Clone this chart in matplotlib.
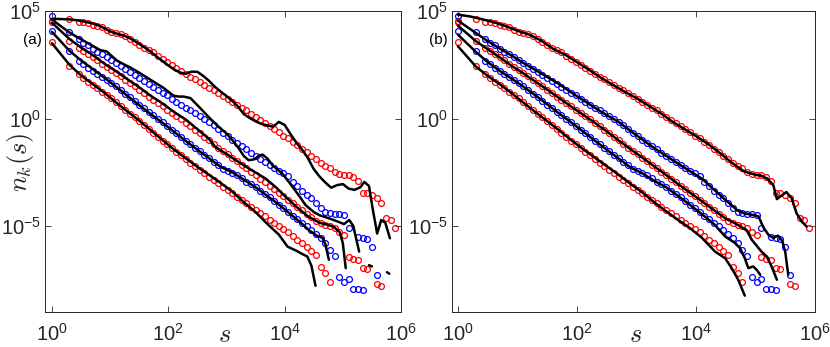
import numpy as np
import matplotlib
matplotlib.use("Agg")
import matplotlib.pyplot as plt
from matplotlib.ticker import NullLocator

plt.rcParams['font.family'] = ['Liberation Sans', 'DejaVu Sans']
plt.rcParams['mathtext.fontset'] = 'cm'

# ---------------- data (log10 values) ----------------
LOG_S = [0.00, 0.30, 0.46, 0.54, 0.62, 0.70, 0.78, 0.86, 0.94, 1.02,
         1.10, 1.18, 1.26, 1.34, 1.42, 1.50, 1.58, 1.66, 1.74, 1.82,
         1.90, 1.98, 2.06, 2.14, 2.22, 2.30, 2.38, 2.46, 2.54, 2.62,
         2.70, 2.78, 2.86, 2.94, 3.02, 3.10, 3.18, 3.26, 3.34, 3.42,
         3.50, 3.58, 3.66, 3.74, 3.82, 3.90, 3.98, 4.06, 4.14, 4.22,
         4.30, 4.38, 4.46, 4.54, 4.62, 4.70, 4.78, 4.86, 4.94, 5.02,
         5.10, 5.18, 5.26, 5.34, 5.42, 5.50, 5.58, 5.66, 5.74, 5.82,
         5.90]

nan = float('nan')

# marker series (same data in both panels), log10 n_k(s)
N1 = [4.52, 4.64, 4.50, 4.47, 4.44, 4.37, 4.31, 4.24, 4.13, 4.03,
      3.98, 3.92, 3.84, 3.72, 3.58, 3.43, 3.30, 3.20, 3.07, 2.92,
      2.79, 2.63, 2.49, 2.34, 2.20, 2.07, 1.95, 1.83, 1.68, 1.54,
      1.42, 1.31, 1.18, 1.04, 0.93, 0.77, 0.63, 0.50, 0.38, 0.21,
      0.06, -0.09, -0.23, -0.37, -0.50, -0.65, -0.80, -0.93, -1.09, -1.25,
      -1.42, -1.58, -1.73, -1.88, -2.08, -2.20, -2.32, -2.49, -2.58, -2.64,
      -2.65, -2.70, -2.90, -3.45, -3.47, -3.55, -3.72, -3.94, -4.65, -4.72,
      -5.08]
N2 = [4.79, 4.04, 3.68, 3.52, 3.40, 3.25, 3.11, 2.99, 2.85, 2.71,
      2.56, 2.45, 2.30, 2.18, 2.02, 1.90, 1.75, 1.62, 1.47, 1.34,
      1.20, 1.07, 0.93, 0.79, 0.65, 0.51, 0.38, 0.24, 0.11, -0.01,
      -0.14, -0.32, -0.48, -0.66, -0.82, -0.99, -1.14, -1.30, -1.44, -1.59,
      -1.73, -1.88, -2.04, -2.16, -2.29, -2.43, -2.55, -2.66, -2.97, -3.13,
      -3.38, -3.56, -3.72, -3.94, -4.15, -4.34, -4.41, -4.42, -4.44, -4.49,
      -5.10, nan, -5.49, -5.56, -5.62, -5.99, -7.28]
N3 = [4.50, 3.62, 3.30, 3.16, 3.02, 2.86, 2.70, 2.55, 2.40, 2.25,
      2.11, 1.97, 1.80, 1.65, 1.50, 1.34, 1.19, 1.02, 0.88, 0.72,
      0.56, 0.40, 0.25, 0.10, -0.04, -0.20, -0.36, -0.52, -0.68, -0.85,
      -1.02, -1.18, -1.35, -1.50, -1.66, -1.82, -1.98, -2.15, -2.31, -2.48,
      -2.64, -2.80, -2.96, -3.13, -3.30, -3.46, -3.62, -3.78, -3.94, -4.10,
      -4.26, -4.42, -4.58, -4.75, -4.86, -4.95, -4.98, -5.08, -5.30, -5.40,
      -6.45, -6.52, -6.58, -6.95, -7.00, nan, -7.68, -7.78]
N4 = [4.06, 3.12, 2.68, 2.52, 2.37, 2.22, 2.08, 1.95, 1.80, 1.65,
      1.49, 1.32, 1.15, 0.99, 0.82, 0.65, 0.48, 0.32, 0.15, -0.01,
      -0.18, -0.35, -0.52, -0.69, -0.86, -1.03, -1.20, -1.37, -1.53, -1.70,
      -1.86, -2.02, -2.18, -2.34, -2.46, -2.55, -2.64, -2.78, -2.94, -3.05,
      -3.18, -3.35, -3.50, -3.66, -3.83, -4.00, -4.15, -4.33, -4.52, -4.68,
      -4.86, -5.02, -5.20, -5.36, -5.55, -5.78, -6.10, -6.40, -7.36, -7.60,
      -7.48, -7.95, -7.93, -7.97]
N5 = [3.54, 2.45, 2.05, 1.87, 1.70, 1.55, 1.40, 1.25, 1.10, 0.95,
      0.77, 0.59, 0.41, 0.23, 0.05, -0.13, -0.31, -0.49, -0.67, -0.85,
      -1.03, -1.20, -1.38, -1.55, -1.72, -1.88, -2.05, -2.21, -2.38, -2.54,
      -2.70, -2.86, -3.02, -3.17, -3.32, -3.48, -3.63, -3.79, -3.95, -4.10,
      -4.25, -4.40, -4.55, -4.70, -4.85, -4.98, -5.13, -5.30, -5.47, -5.63,
      -5.80, -5.98, -6.15, -6.35, -6.92, -7.20, -7.60]
MARK_COLORS = ['#FF0000', '#0000FF', '#FF0000', '#0000FF', '#FF0000']

# model curves, panel (a)
LA1_X = [0, 0.1, 0.2, 0.3, 0.4, 0.5, 0.6, 0.7, 0.8, 0.9, 1.0, 1.1, 1.2, 1.3, 1.4,
         1.5, 1.6, 1.7, 1.8, 1.9, 2.0, 2.1, 2.2, 2.3, 2.4, 2.5, 2.6, 2.7, 2.8, 2.9,
         3.0, 3.1, 3.2, 3.3, 3.4, 3.5, 3.6, 3.7, 3.8, 3.9, 4.0, 4.1, 4.2, 4.3, 4.4,
         4.5, 4.6, 4.7, 4.8, 4.9, 5.0, 5.1, 5.2, 5.3, 5.37, 5.45, 5.51, 5.59, 5.66,
         5.73, 5.81]
LA1_Y = [4.64, 4.63, 4.62, 4.61, 4.58, 4.54, 4.48, 4.42, 4.33, 4.20, 4.05, 3.96,
         3.88, 3.79, 3.64, 3.47, 3.29, 3.10, 2.88, 2.67, 2.47, 2.28, 2.14, 2.08,
         2.18, 2.17, 1.98, 1.75, 1.48, 1.25, 1.04, 0.82, 0.55, 0.20, 0.02, -0.13,
         -0.25, -0.32, -0.38, -0.16, -0.30, -0.72, -1.12, -1.45, -1.85, -2.35,
         -2.70, -2.98, -3.22, -3.10, -3.05, -3.26, -3.32, -3.20, -2.95, -3.14,
         -4.15, -5.35, -4.72, -4.85, -5.57]
LA2_X = [0, 0.15, 0.3, 0.45, 0.6, 0.75, 0.83, 0.94, 1.03, 1.12, 1.25, 1.34, 1.5,
         1.63, 1.8, 1.92, 2.0, 2.09, 2.18, 2.26, 2.38, 2.47, 2.55, 2.7, 2.87, 3.0,
         3.1, 3.2, 3.3, 3.38, 3.48, 3.56, 3.62, 3.7, 3.8, 3.96, 4.1, 4.25, 4.36,
         4.5, 4.6, 4.76, 4.9, 5.02, 5.11, 5.18, 5.28]
LA2_Y = [4.60, 4.30, 4.00, 3.76, 3.53, 3.30, 3.18, 3.12, 2.90, 2.69, 2.50, 2.38,
         2.13, 1.91, 1.62, 1.42, 1.25, 1.06, 1.02, 1.02, 0.95, 0.70, 0.48, 0.05,
         -0.40, -0.70, -1.00, -1.35, -1.75, -1.94, -1.90, -1.72, -1.68, -1.85,
         -2.20, -2.56, -3.05, -3.60, -4.03, -4.35, -4.50, -4.64, -4.78, -4.91,
         -4.72, -5.00, -6.19]
LA3_X = [0, 0.3, 0.5, 0.7, 0.9, 1.1, 1.3, 1.5, 1.7, 1.9, 2.1, 2.3, 2.5, 2.7, 2.81,
         3.0, 3.16, 3.4, 3.67, 3.85, 4.0, 4.2, 4.4, 4.6, 4.75, 4.85, 4.95, 5.0,
         5.05, nan, 5.45, 5.50, nan, 5.76, 5.80]
LA3_Y = [4.45, 3.70, 3.30, 2.95, 2.55, 2.20, 1.82, 1.45, 1.05, 0.70, 0.30, -0.05,
         -0.50, -0.95, -1.33, -1.65, -1.94, -2.35, -2.79, -3.20, -3.60, -4.10,
         -4.55, -4.85, -4.95, -5.05, -5.30, -5.80, -6.96, nan, -6.82, -6.88, nan,
         -7.15, -7.22]
LA4_X = [0, 0.3, 0.5, 0.7, 0.9, 1.1, 1.3, 1.5, 1.7, 1.9, 2.1, 2.3, 2.5, 2.7, 2.9,
         3.1, 3.3, 3.5, 3.7, 3.9, 4.1, 4.3, 4.42, 4.55, 4.65, 4.70, 4.76]
LA4_Y = [4.03, 3.15, 2.70, 2.30, 1.90, 1.48, 1.05, 0.62, 0.20, -0.20, -0.62,
         -1.05, -1.45, -1.85, -2.25, -2.50, -2.85, -3.20, -3.60, -4.00, -4.45,
         -4.90, -5.20, -5.45, -5.55, -5.85, -6.57]
LA5_X = [0, 0.3, 0.5, 0.7, 0.9, 1.1, 1.3, 1.5, 1.7, 1.9, 2.1, 2.3, 2.5, 2.7, 2.9,
         3.1, 3.3, 3.5, 3.7, 3.9, 4.05, 4.2, 4.28, 4.39, 4.46, 4.53]
LA5_Y = [3.50, 2.50, 2.00, 1.60, 1.20, 0.75, 0.32, -0.10, -0.55, -1.00, -1.45,
         -1.85, -2.25, -2.62, -3.00, -3.40, -3.90, -4.35, -4.90, -5.40, -5.96,
         -6.15, -6.27, -6.42, -6.85, -7.78]

# model curves, panel (b)
LB1_X = [0, 0.2, 0.4, 0.6, 0.8, 1.0, 1.2, 1.4, 1.6, 1.8, 2.0, 2.2, 2.4, 2.6, 2.8,
         3.0, 3.2, 3.4, 3.6, 3.8, 4.0, 4.2, 4.4, 4.6, 4.8, 5.0, 5.1, 5.2, 5.3,
         5.36, 5.44, 5.52, 5.61, 5.69, 5.78, 5.86]
LB1_Y = [4.83, 4.75, 4.62, 4.48, 4.30, 4.08, 3.90, 3.62, 3.24, 2.97, 2.62, 2.27,
         1.90, 1.57, 1.25, 0.95, 0.60, 0.26, -0.14, -0.48, -0.82, -1.18, -1.60,
         -2.05, -2.45, -2.62, -2.66, -2.80, -3.10, -3.75, -3.58, -3.42, -3.72,
         -4.41, -4.80, -5.03]
LB2_X = [0, 0.3, 0.5, 0.7, 0.9, 1.1, 1.3, 1.5, 1.7, 1.9, 2.1, 2.3, 2.5, 2.7, 2.9,
         3.1, 3.3, 3.5, 3.7, 3.9, 4.1, 4.3, 4.5, 4.7, 4.82, 4.95, 5.05, 5.13, 5.22,
         5.30, 5.38, 5.45, 5.50, 5.55]
LB2_Y = [4.55, 3.98, 3.60, 3.26, 2.93, 2.58, 2.26, 1.93, 1.60, 1.22, 0.86, 0.50,
         0.16, -0.16, -0.58, -0.98, -1.38, -1.74, -2.10, -2.45, -2.80, -3.30,
         -3.80, -4.28, -4.42, -4.48, -4.55, -5.05, -5.42, -5.55, -5.45, -5.70,
         -6.20, -7.27]
LB3_X = [0, 0.3, 0.5, 0.7, 0.9, 1.1, 1.3, 1.5, 1.7, 1.9, 2.1, 2.3, 2.5, 2.7, 2.9,
         3.1, 3.3, 3.5, 3.7, 3.9, 4.1, 4.3, 4.5, 4.66, 4.85, 4.94, 5.10, 5.19,
         5.27, 5.36]
LB3_Y = [4.32, 3.60, 3.22, 2.85, 2.45, 2.10, 1.72, 1.34, 0.95, 0.56, 0.18, -0.20,
         -0.60, -1.02, -1.43, -1.82, -2.23, -2.63, -3.05, -3.45, -3.85, -4.26,
         -4.66, -4.88, -5.19, -5.65, -6.19, -6.42, -6.88, -7.50]
LB4_X = [0, 0.3, 0.5, 0.7, 0.9, 1.1, 1.3, 1.5, 1.7, 1.9, 2.1, 2.3, 2.5, 2.7, 2.9,
         3.1, 3.3, 3.5, 3.7, 3.9, 4.1, 4.3, 4.49, 4.66, 4.74, 4.82, 4.88, 4.96,
         5.02, 5.08]
LB4_Y = [3.90, 3.10, 2.62, 2.22, 1.86, 1.48, 1.08, 0.66, 0.23, -0.18, -0.60,
         -1.03, -1.45, -1.86, -2.28, -2.55, -2.90, -3.20, -3.60, -4.02, -4.45,
         -4.90, -5.49, -5.80, -6.03, -6.50, -6.96, -6.88, -7.04, -7.27]
LB5_X = [0, 0.3, 0.5, 0.7, 0.9, 1.1, 1.3, 1.5, 1.7, 1.9, 2.1, 2.3, 2.5, 2.7, 2.9,
         3.1, 3.3, 3.5, 3.7, 3.9, 4.1, 4.32, 4.49, 4.60, 4.71, 4.82]
LB5_Y = [3.36, 2.42, 1.98, 1.60, 1.18, 0.74, 0.30, -0.12, -0.55, -1.00, -1.42,
         -1.82, -2.22, -2.62, -3.04, -3.44, -3.90, -4.32, -4.72, -5.10, -5.55,
         -6.19, -6.50, -6.96, -7.50, -8.24]

X_TICKS = [1e0, 1e2, 1e4, 1e6]
Y_TICKS = [1e-5, 1e0, 1e5]
PANEL_LABELS = ['(a)', '(b)']

# ---------------- figure ----------------
W, H = 830, 347
fig = plt.figure(figsize=(W / 100, H / 100), dpi=100)
axA = fig.add_axes([45 / W, 1 - 312 / H, 356 / W, 301 / H])
axB = fig.add_axes([452 / W, 1 - 312 / H, 363 / W, 301 / H])

s_vals = 10 ** np.array(LOG_S)
marker_sets = [N1, N2, N3, N4, N5]
lines_a = [(LA1_X, LA1_Y), (LA2_X, LA2_Y), (LA3_X, LA3_Y), (LA4_X, LA4_Y), (LA5_X, LA5_Y)]
lines_b = [(LB1_X, LB1_Y), (LB2_X, LB2_Y), (LB3_X, LB3_Y), (LB4_X, LB4_Y), (LB5_X, LB5_Y)]

TXT = '#262626'
for ax, lines, xmin in [(axA, lines_a, 10 ** -0.12), (axB, lines_b, 10 ** -0.10)]:
    ax.set_xscale('log')
    ax.set_yscale('log')
    for vals, col in zip(marker_sets, MARK_COLORS):
        y = np.array(vals + [nan] * (len(LOG_S) - len(vals)), dtype=float)
        ax.plot(s_vals, 10 ** y, linestyle='none', marker='o', ms=4.2,
                mfc='none', mec=col, mew=0.9, zorder=2)
    for lx, ly in lines:
        ax.plot(10 ** np.array(lx, dtype=float), 10 ** np.array(ly, dtype=float),
                color='black', lw=1.8, zorder=3, solid_joinstyle='round',
                solid_capstyle='round')
    ax.set_xlim(xmin, 1e6)
    ax.set_ylim(1e-9, 1e5)
    ax.set_xticks(X_TICKS)
    ax.set_yticks(Y_TICKS)
    ax.xaxis.set_minor_locator(NullLocator())
    ax.yaxis.set_minor_locator(NullLocator())
    ax.tick_params(which='both', direction='in', top=True, right=True,
                   length=4, width=0.6, colors=TXT, labelsize=14.5)
    ax.tick_params(axis='x', pad=8)
    ax.tick_params(axis='y', pad=3)
    for sp in ax.spines.values():
        sp.set_color(TXT)
        sp.set_linewidth(0.7)
    ax.text(0.505, -0.078, r'$s$', transform=ax.transAxes, fontsize=19,
            ha='center', va='center', color=TXT)

fig.text(20 / W, 1 - 162 / H, r'$n_k(s)$', rotation=90, fontsize=19,
         ha='center', va='center', color=TXT)
fig.text(32 / W, 1 - 40 / H, PANEL_LABELS[0], fontsize=11, ha='center',
         va='center', color='black')
fig.text(438 / W, 1 - 40 / H, PANEL_LABELS[1], fontsize=11, ha='center',
         va='center', color='black')

fig.savefig('out.png', dpi=100)
